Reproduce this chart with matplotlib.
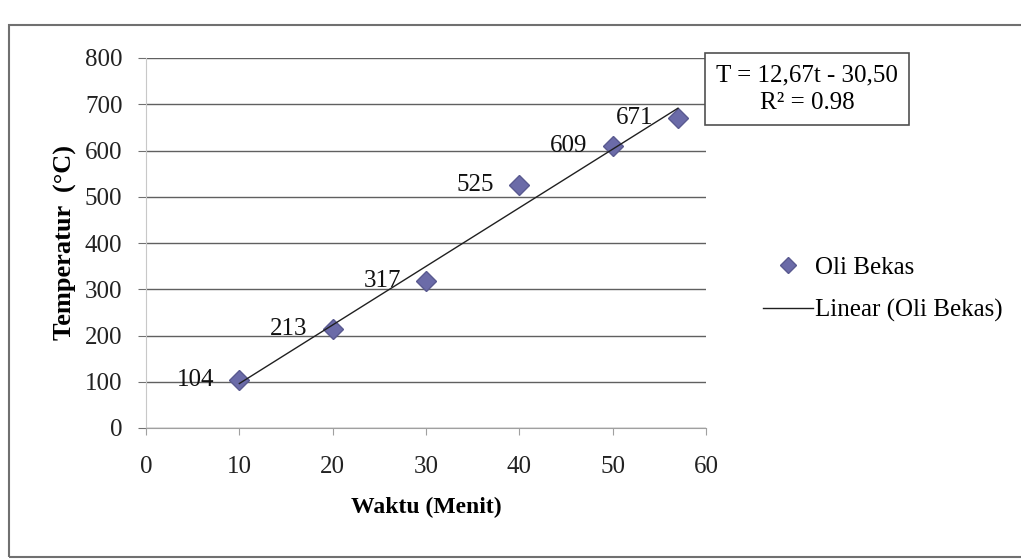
import numpy as np
import matplotlib.pyplot as plt
from matplotlib.patches import Rectangle

# data
waktu = [10, 20, 30, 40, 50, 57]
temperatur = [104, 213, 317, 525, 609, 671]
x_ticks = [0, 10, 20, 30, 40, 50, 60]
y_ticks = [0, 100, 200, 300, 400, 500, 600, 700, 800]

plt.rcParams['font.family'] = ['Liberation Serif', 'DejaVu Serif']

fig = plt.figure(figsize=(10.21, 5.6), dpi=100)
ax = fig.add_axes([146 / 1021, 1 - 428 / 560, 560 / 1021, 370 / 560])

# outer chart frame
fig.patches.append(Rectangle((9 / 1021, 1 - 557 / 560), 1.2, (557 - 25) / 560,
                             transform=fig.transFigure, fill=False,
                             edgecolor='#707070', linewidth=1.5))

slope, intercept = np.polyfit(waktu, temperatur, 1)
xs = np.array([min(waktu), max(waktu)])
ax.plot(waktu, temperatur, 'D', color='#6b6ba8', markersize=10,
        markeredgecolor='#5a5a90', label='Oli Bekas', zorder=3)
ax.plot(xs, slope * xs + intercept, '-', color='#202020', linewidth=1,
        label='Linear (Oli Bekas)', zorder=4)

for x, y in zip(waktu, temperatur):
    ax.annotate(str(y), (x, y), xytext=(-18, 0), textcoords='offset points',
                ha='right', va='center', fontsize=18, color='#111111')

ax.set_xlim(0, 60)
ax.set_ylim(0, 800)
ax.set_xticks(x_ticks)
ax.set_yticks(y_ticks)
ax.tick_params(axis='both', labelsize=18, colors='#222222')
ax.tick_params(axis='y', length=6, color='#707070', pad=11)
ax.tick_params(axis='x', length=5, color='#a0a0a0', pad=15)
ax.yaxis.grid(True, color='#606060', linewidth=1)
ax.set_axisbelow(True)
for side in ['top', 'right']:
    ax.spines[side].set_visible(False)
ax.spines['left'].set_color('#c8c8c8')
ax.spines['bottom'].set_color('#a0a0a0')

ax.set_xlabel('Waktu (Menit)', fontsize=17, fontweight='bold', labelpad=14)
ax.set_ylabel('Temperatur  (°C)', fontsize=19, fontweight='bold', labelpad=6)

fig.text(807 / 1021, 1 - 89 / 560, 'T = 12,67t - 30,50\nR² = 0.98',
         ha='center', va='center', fontsize=18, linespacing=1.3,
         bbox=dict(boxstyle='square,pad=0.45', facecolor='white',
                   edgecolor='#505050', linewidth=1.2))

fig.legend(loc='center left', bbox_to_anchor=(740 / 1021, 1 - 289 / 560),
           frameon=False, fontsize=18, handlelength=2.0, handletextpad=0.1,
           labelspacing=0.8, markerscale=0.8)

fig.savefig('out.png', dpi=100)
